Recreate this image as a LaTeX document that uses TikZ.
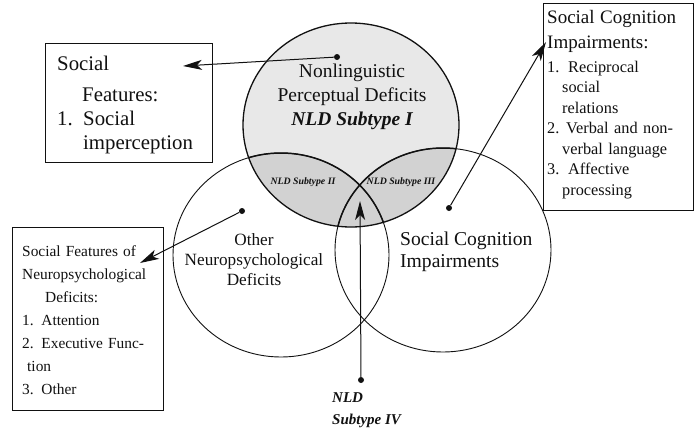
\documentclass[tikz,border=0pt]{standalone}
\usepackage{fontspec}
\setmainfont{Liberation Serif}
\usetikzlibrary{arrows.meta}
\definecolor{ink}{HTML}{111111}
\definecolor{lightfill}{HTML}{E8E8E8}
\definecolor{darkfill}{HTML}{D2D2D2}
\begin{document}
\begin{tikzpicture}[x=1pt,y=-1pt,
  ring/.style={draw=ink, line width=0.9pt},
  frame/.style={draw=ink, line width=0.9pt, inner sep=0pt},
  dot/.style={circle, fill=ink, inner sep=0pt, minimum size=6pt},
  conn/.style={draw=ink, line width=1pt, -{Stealth[length=19pt,width=10pt,inset=5pt]}},
  txt/.style={inner sep=0pt, text=ink},
  subt/.style={inner sep=0pt, text=ink, font=\fontsize{9.8}{11}\selectfont\bfseries\itshape},
]
\useasboundingbox (0,0) rectangle (695,431);
\fill[white] (0,0) rectangle (695,431);

% circle centres
\coordinate (cT) at (351,125);
\coordinate (cL) at (281,255);
\coordinate (cR) at (443,250);

% shading
\fill[lightfill] (cT) ellipse [x radius=108pt, y radius=102pt];
\begin{scope}
  \clip (cT) ellipse [x radius=108pt, y radius=102pt];
  \fill[darkfill] (cL) ellipse [x radius=108pt, y radius=102pt];
  \fill[darkfill] (cR) ellipse [x radius=108pt, y radius=102pt];
\end{scope}

% outlines
\draw[ring] (cL) ellipse [x radius=108pt, y radius=102pt];
\draw[ring] (cR) ellipse [x radius=108pt, y radius=102pt];
\begin{scope}
  \clip (cT) ellipse [x radius=108pt, y radius=102pt];
  \draw[ring, line width=1.5pt] (cL) ellipse [x radius=108pt, y radius=102pt];
  \draw[ring, line width=1.5pt] (cR) ellipse [x radius=108pt, y radius=102pt];
\end{scope}
\draw[ring, line width=1.3pt] (cT) ellipse [x radius=108pt, y radius=102pt];

% circle labels
\node[txt, anchor=north, align=center, font=\fontsize{19.5}{24}\selectfont] (tTop) at (352,64)
  {Nonlinguistic\\Perceptual Deficits\\{\bfseries\itshape NLD Subtype I}};
\node[txt, anchor=north, align=center, font=\fontsize{17.2}{20}\selectfont] (tLeft) at (254,233)
  {Other\\Neuropsychological\\Deficits};
\node[txt, anchor=north west, align=left, font=\fontsize{19.6}{21.5}\selectfont] (tRight) at (400,232)
  {Social Cognition\\Impairments};
\node[subt] (s2) at (303,182) {NLD Subtype II};
\node[subt] (s3) at (401,182) {NLD Subtype III};
\node[txt, anchor=north west, align=left, font=\fontsize{15}{22}\selectfont\bfseries\itshape] (s4) at (332,392)
  {NLD\\Subtype IV};

% boxes
\node[frame, minimum width=167pt, minimum height=119pt] (sfbox) at (128.5,102.5) {};
\node[txt, anchor=north west, align=left, text width=150pt, font=\fontsize{20.8}{24}\selectfont] (sftext) at (57,56)
  {Social\\[7pt]\hspace*{25pt}Features:\\\makebox[26pt][l]{1.}Social\\\hspace*{26pt}imperception};

\node[frame, minimum width=150pt, minimum height=207pt] (scbox) at (618,106.5) {};
\node[txt, anchor=north west, align=left, text width=145pt, font=\fontsize{16.3}{20.5}\selectfont] (sctext) at (547,10)
  {{\fontsize{19}{20}\selectfont Social Cognition}\\[5pt]
   {\fontsize{19}{20}\selectfont Impairments:}\\[3pt]
   \makebox[21pt][l]{1.}Reciprocal\\
   \hspace*{15pt}social\\
   \hspace*{15pt}relations\\
   \makebox[19pt][l]{2.}Verbal and non-\\
   \hspace*{15pt}verbal language\\
   \makebox[21pt][l]{3.}Affective\\
   \hspace*{15pt}processing};

\node[frame, minimum width=151pt, minimum height=183pt] (npbox) at (87.5,318.5) {};
\node[txt, anchor=north west, align=left, text width=140pt, font=\fontsize{15.4}{23}\selectfont] (nptext) at (22,245)
  {Social Features of\\
   Neuropsychological\\
   \hspace*{23pt}Deficits:\\
   1. Attention\\
   2. Executive Func-\\
   \hspace*{5pt}tion\\
   3. Other};

% connectors
\node[dot] (dT) at (337,57) {};
\coordinate (aT) at (183,66);
\draw[conn] (dT) -- (aT);

\node[dot] (dL) at (242,211) {};
\coordinate (aL) at (140,263);
\draw[conn] (dL) -- (aL);

\node[dot] (dR) at (449,208) {};
\coordinate (aR) at (546,42);
\draw[conn] (dR) -- (aR);

\node[dot] (dB) at (361,380) {};
\coordinate (aB) at (360,201);
\draw[conn] (dB) -- (aB);
\end{tikzpicture}
\end{document}
